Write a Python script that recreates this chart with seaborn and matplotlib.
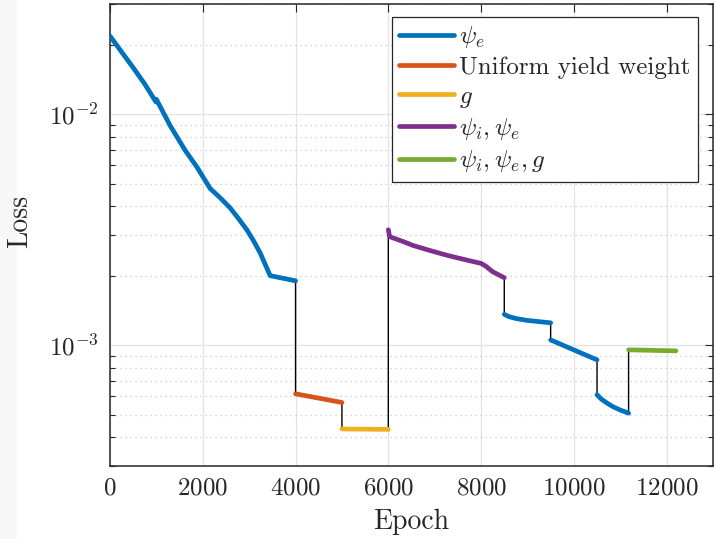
import numpy as np
import pandas as pd
import matplotlib
matplotlib.use("Agg")
import matplotlib.pyplot as plt
import seaborn as sns
from matplotlib.lines import Line2D
from matplotlib.ticker import LogLocator, FixedLocator, NullFormatter

# ---- data ----
labels = [r"$\psi_e$", "Uniform yield weight", r"$g$", r"$\psi_i, \psi_e$", r"$\psi_i, \psi_e, g$"]
colors = ["#0072BD", "#D95319", "#EDB120", "#7E2F8E", "#77AC30"]

seg1_x = [0, 250, 500, 750, 990, 1000, 1300, 1619, 1871, 2158, 2374, 2590, 2763, 2950, 3087, 3237, 3345, 3453, 4000]
seg1_y = [0.0218, 0.0186, 0.0159, 0.0135, 0.01130, 0.01160, 0.00890, 0.00698, 0.00592, 0.00477,
          0.00435, 0.00393, 0.00355, 0.00316, 0.00285, 0.00251, 0.00224, 0.00200, 0.00190]

seg2_x = [4000, 4500, 5000]
seg2_y = [0.000616, 0.000590, 0.000565]

seg3_x = [5000, 6000]
seg3_y = [0.000434, 0.000432]

seg4_x = [6000, 6030, 6300, 6540, 6900, 7267, 7600, 8000, 8100, 8250, 8500]
seg4_y = [0.00316, 0.00295, 0.00282, 0.00270, 0.00257, 0.00245, 0.00236, 0.00226, 0.00220, 0.00208, 0.00196]

seg5_x = [8500, 8600, 8750, 9000, 9250, 9500]
seg5_y = [0.00136, 0.00133, 0.001305, 0.00128, 0.001265, 0.00125]

seg6_x = [9500, 10500]
seg6_y = [0.001054, 0.000864]

seg7_x = [10500, 10600, 10720, 10850, 11000, 11180]
seg7_y = [0.000610, 0.000583, 0.000561, 0.000541, 0.000524, 0.000508]

seg8_x = [11180, 12200]
seg8_y = [0.000955, 0.000945]

segments = [
    (seg1_x, seg1_y, 0), (seg2_x, seg2_y, 1), (seg3_x, seg3_y, 2),
    (seg4_x, seg4_y, 3), (seg5_x, seg5_y, 0), (seg6_x, seg6_y, 0),
    (seg7_x, seg7_y, 0), (seg8_x, seg8_y, 4),
]

rows = []
for k, (xs, ys, li) in enumerate(segments):
    for x, y in zip(xs, ys):
        rows.append({"epoch": x, "loss": y, "seg": k, "label": labels[li]})
df = pd.DataFrame(rows)

# ---- style ----
sns.set_style("white")
plt.rcParams["font.family"] = ["cmr10", "DejaVu Serif"]
plt.rcParams["mathtext.fontset"] = "cm"
plt.rcParams["axes.formatter.use_mathtext"] = True
plt.rcParams["axes.unicode_minus"] = False

fig = plt.figure(figsize=(7.16, 5.39), dpi=100)
fig.patches.append(plt.Rectangle((0, 0), 16 / 716, 1, transform=fig.transFigure,
                                 color="#f7f7f7", zorder=-10))
ax = fig.add_axes([110 / 716, 1 - 466 / 539, (713 - 110) / 716, (466 - 4) / 539])

LW = 3.4
# thin black connector of whole history
sns.lineplot(data=df, x="epoch", y="loss", estimator=None, sort=False,
             color="black", linewidth=1.0, ax=ax, zorder=2)
# coloured segments
palette = dict(zip(labels, colors))
sns.lineplot(data=df, x="epoch", y="loss", hue="label", units="seg", estimator=None,
             sort=False, palette=palette, linewidth=LW, ax=ax, legend=False, zorder=3)

ax.set_yscale("log")
ax.set_xlim(0, 13000)
ax.set_ylim(3e-4, 3e-2)
ax.set_xticks([0, 2000, 4000, 6000, 8000, 10000, 12000])
ax.yaxis.set_major_locator(FixedLocator([1e-3, 1e-2]))
ax.set_yticklabels([r"$10^{-3}$", r"$10^{-2}$"])
ax.yaxis.set_minor_locator(LogLocator(base=10, subs=np.arange(2, 10)))
ax.yaxis.set_minor_formatter(NullFormatter())

ax.grid(which="major", axis="both", color="#e3e3e3", linewidth=0.9, linestyle="-")
ax.grid(which="minor", axis="y", color="#c8c8c8", linewidth=0.9, linestyle=(0, (1, 3)))
ax.set_axisbelow(True)

for s in ax.spines.values():
    s.set_visible(True)
    s.set_color("#262626")
    s.set_linewidth(1.1)

ax.tick_params(which="major", direction="in", length=6, width=0.8, top=True, right=True,
               labelsize=18, colors="#262626", pad=8)
ax.tick_params(which="minor", direction="in", length=3.5, width=0.8, top=False, right=True,
               left=True, colors="#262626")
ax.tick_params(axis="x", which="minor", bottom=False, top=False)

ax.set_xlabel("Epoch", fontsize=20, color="#262626", labelpad=7)
ax.set_ylabel("Loss", fontsize=20, color="#262626")
ax.yaxis.set_label_coords(-0.128, 0.53)

handles = [Line2D([0], [0], color=c, linewidth=LW) for c in colors]
leg = ax.legend(handles, labels, loc="upper right", bbox_to_anchor=(0.975, 0.972),
                fontsize=18, frameon=True, fancybox=False, framealpha=1,
                edgecolor="#262626", handlelength=2.2, handletextpad=0.2,
                labelspacing=0.25, borderpad=0.3, borderaxespad=0)
leg.get_frame().set_linewidth(0.9)

fig.savefig("out.png", dpi=100, facecolor="white")
